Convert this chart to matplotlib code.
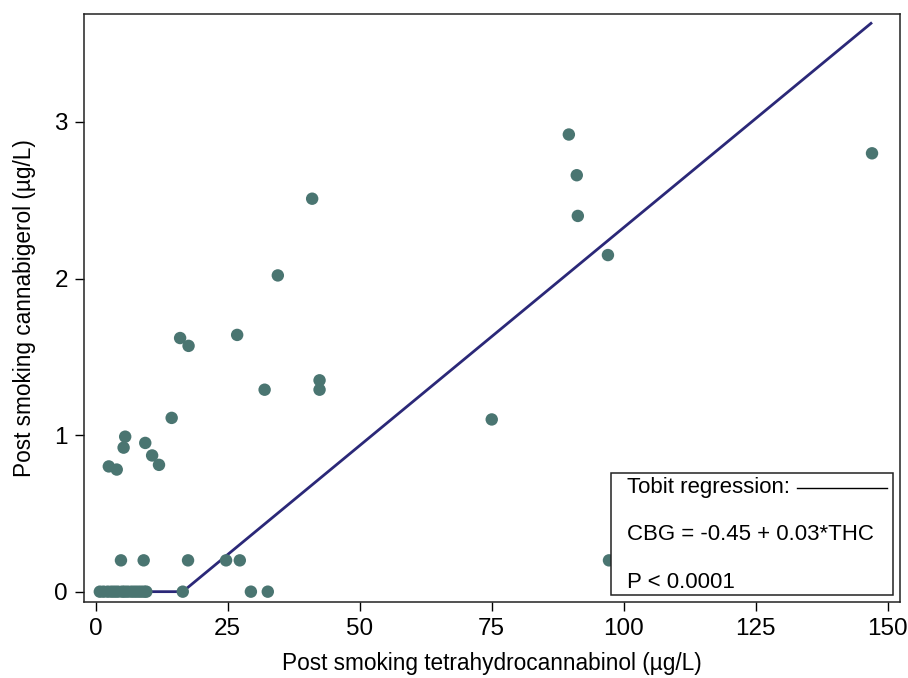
import matplotlib.pyplot as plt
import numpy as np

plt.rcParams['font.family'] = ['Liberation Sans', 'DejaVu Sans']

# post smoking THC (x) and CBG (y), ug/L
thc = [147.0, 89.6, 91.1, 91.3, 97.0, 75.0, 97.2,
       41.0, 34.5, 26.8, 16.0, 17.6, 42.4, 42.4, 32.0, 14.4,
       5.6, 5.3, 9.4, 10.7, 12.0, 2.5, 4.0,
       4.8, 9.1, 17.5, 24.7, 27.3,
       16.5, 29.4, 32.6,
       0.8, 1.5, 2.3, 3.0, 3.6, 4.2, 5.0, 5.5, 6.1, 6.8, 7.4, 8.0, 8.6, 9.2, 9.6]
cbg = [2.80, 2.92, 2.66, 2.40, 2.15, 1.10, 0.20,
       2.51, 2.02, 1.64, 1.62, 1.57, 1.35, 1.29, 1.29, 1.11,
       0.99, 0.92, 0.95, 0.87, 0.81, 0.80, 0.78,
       0.20, 0.20, 0.20, 0.20, 0.20,
       0.0, 0.0, 0.0,
       0.0, 0.0, 0.0, 0.0, 0.0, 0.0, 0.0, 0.0, 0.0, 0.0, 0.0, 0.0, 0.0, 0.0, 0.0]

# tobit fitted line (censored at 0)
fit_x = [0.8, 16.5, 146.8]
fit_y = [0.0, 0.0, 3.63]

legend_lines = ['Tobit regression:', 'CBG = -0.45 + 0.03*THC', 'P < 0.0001']

fig = plt.figure(figsize=(9.08, 6.78), dpi=100)
ax = fig.add_axes([0.0925, 0.1121, 0.8987, 0.8673])

ax.plot(fit_x, fit_y, color='#2b2878', linewidth=2.0, zorder=2)
ax.scatter(thc, cbg, s=80, color='#4a7571', edgecolors='none', zorder=3)

ax.set_xlim(-2.2, 152.3)
ax.set_ylim(-0.066, 3.69)
ax.set_xticks([0, 25, 50, 75, 100, 125, 150])
ax.set_yticks([0, 1, 2, 3])
ax.tick_params(axis='both', direction='out', length=6.5, width=1.0, labelsize=17.5, pad=5)
for s in ax.spines.values():
    s.set_linewidth(1.1)
    s.set_color('#222222')

ax.set_xlabel('Post smoking tetrahydrocannabinol (\u00b5g/L)', fontsize=16.3, labelpad=9)
ax.set_ylabel('Post smoking cannabigerol (\u00b5g/L)', fontsize=16.3, labelpad=13)

# legend box
box = plt.Rectangle((611 / 908, 1 - 595 / 678), (893 - 611) / 908, (595 - 473) / 678,
                    transform=fig.transFigure, facecolor='white', edgecolor='#222222',
                    linewidth=1.1, zorder=5)
fig.patches.append(box)
ys = [488, 535, 582]
for txt, yp in zip(legend_lines, ys):
    fig.text(627 / 908, 1 - yp / 678, txt, fontsize=16, va='center', ha='left', zorder=6)
fig.lines.append(plt.Line2D([797 / 908, 887 / 908], [1 - 488 / 678, 1 - 488 / 678],
                            transform=fig.transFigure, color='black', linewidth=1.0, zorder=6))

fig.savefig('out.png', dpi=100)
